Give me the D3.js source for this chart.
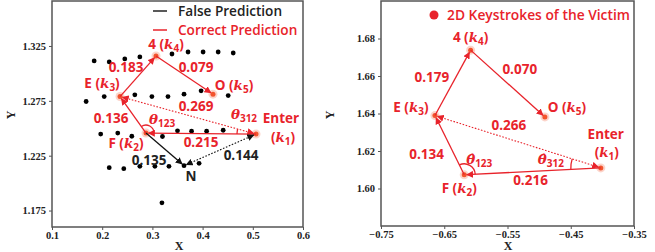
<!DOCTYPE html>
<html>
<head>
<meta charset="utf-8">
<script src="https://cdn.jsdelivr.net/npm/d3@7"></script>
<style>
  body { margin: 0; background: #fff; }
  .tick text { font-family: "Liberation Serif", serif; font-weight: bold; font-size: 10.5px; fill: #222; }
  .domain { display: none; }
  .tick line { stroke: #555; }
  .lbl { font-family: "Open Sans", sans-serif; font-weight: 700; font-size: 13.5px; }
  .axlbl { font-family: "Liberation Serif", serif; font-weight: bold; font-size: 12px; fill: #222; }
</style>
</head>
<body>
<div id="chart-area"></div>
<script>
// colours
let red = "#e8232b";
let keyFill = "#f2542d";

// left panel: false predictions (black dots)
let falseX = [0.184, 0.214, 0.245, 0.275, 0.339, 0.371, 0.401, 0.431, 0.461,
              0.168, 0.204, 0.265, 0.299, 0.331, 0.363, 0.397, 0.451,
              0.197, 0.231, 0.259, 0.320, 0.350, 0.378, 0.408, 0.441,
              0.214, 0.243, 0.275, 0.305, 0.333, 0.393, 0.319];
let falseY = [1.3114, 1.3105, 1.3132, 1.3150, 1.3177, 1.3195, 1.3195, 1.3195, 1.3186,
              1.2744, 1.2789, 1.2805, 1.2789, 1.2789, 1.2811, 1.2841, 1.2798,
              1.2447, 1.2456, 1.2427, 1.2425, 1.2477, 1.2473, 1.2473, 1.2482,
              1.2141, 1.2132, 1.2153, 1.2153, 1.2153, 1.2180, 1.1820];

// keystrokes: Enter, F, E, 4, O
let keyNames = ["Enter", "F", "E", "4", "O"];
let leftKeyX = [0.5064, 0.2873, 0.2355, 0.3072, 0.4207];
let leftKeyY = [1.2447, 1.2456, 1.2789, 1.3159, 1.2811];
let leftN = [0.363, 1.2159];

let rightKeyX = [-0.4025, -0.6184, -0.6647, -0.6083, -0.4909];
let rightKeyY = [1.6110, 1.6073, 1.6389, 1.6738, 1.6382];

// edge distances [from, to, label]
let leftEdges = [["F", "E", "0.136"], ["E", "4", "0.183"], ["4", "O", "0.079"],
                 ["Enter", "E", "0.269"], ["Enter", "F", "0.215"]];
let leftFalseEdges = [["F", "N", "0.135"], ["Enter", "N", "0.144"]];
let rightEdges = [["F", "E", "0.134"], ["E", "4", "0.179"], ["4", "O", "0.070"],
                  ["Enter", "E", "0.266"], ["Enter", "F", "0.216"]];

// tick values
let leftXTicks = [0.1, 0.2, 0.3, 0.4, 0.5, 0.6];
let leftYTicks = [1.175, 1.225, 1.275, 1.325];
let rightXTicks = [-0.75, -0.65, -0.55, -0.45, -0.35];
let rightYTicks = [1.60, 1.62, 1.64, 1.66, 1.68];

let svg = d3.select("#chart-area").append("svg")
  .attr("width", 655)
  .attr("height", 252);

let defs = svg.append("defs");
function marker(id, color) {
  defs.append("marker")
    .attr("id", id)
    .attr("viewBox", "0 0 10 10")
    .attr("refX", 9).attr("refY", 5)
    .attr("markerUnits", "userSpaceOnUse")
    .attr("markerWidth", 7).attr("markerHeight", 7)
    .attr("orient", "auto-start-reverse")
    .append("path")
    .attr("d", "M0,0L10,5L0,10z")
    .attr("fill", color);
}
marker("ar-red", red);
marker("ar-black", "#111");

// scales
let xL = d3.scaleLinear().domain([0.1, 0.6]).range([52, 303]);
let yL = d3.scaleLinear().domain([1.16, 1.366]).range([227, 1]);
let xR = d3.scaleLinear().domain([-0.75, -0.35]).range([381, 634]);
let yR = d3.scaleLinear().domain([1.58, 1.70]).range([226, 1]);

function drawFrame(x, y, xt, yt, xf, yf, xLab, yLab) {
  let g = svg.append("g");
  g.append("g")
    .attr("transform", "translate(0," + y.range()[0] + ")")
    .call(d3.axisBottom(x).tickValues(xt).tickFormat(d3.format(xf)).tickSize(3).tickPadding(2));
  g.append("g")
    .attr("transform", "translate(" + x.range()[0] + ",0)")
    .call(d3.axisLeft(y).tickValues(yt).tickFormat(d3.format(yf)).tickSize(3).tickPadding(3));
  g.append("rect")
    .attr("x", x.range()[0]).attr("y", y.range()[1])
    .attr("width", x.range()[1] - x.range()[0])
    .attr("height", y.range()[0] - y.range()[1])
    .attr("fill", "none").attr("stroke", "#555").attr("stroke-width", 1.5);
  g.append("text").attr("class", "axlbl")
    .attr("x", xLab[0]).attr("y", xLab[1])
    .attr("text-anchor", "middle").attr("dy", "0.35em").text("X");
  g.append("text").attr("class", "axlbl")
    .attr("transform", "translate(" + yLab[0] + "," + yLab[1] + ") rotate(-90)")
    .attr("text-anchor", "middle").attr("dy", "0.35em").text("Y");
}

drawFrame(xL, yL, leftXTicks, leftYTicks, ".1f", ".3f", [179, 246], [11, 115]);
drawFrame(xR, yR, rightXTicks, rightYTicks, ".2f", ".2f", [508, 246], [330, 115]);

// positions in pixels
function pts(x, y, xs, ys) {
  let p = {};
  keyNames.forEach((k, i) => p[k] = [x(xs[i]), y(ys[i])]);
  return p;
}
let pL = pts(xL, yL, leftKeyX, leftKeyY);
pL.N = [xL(leftN[0]), yL(leftN[1])];
let pR = pts(xR, yR, rightKeyX, rightKeyY);

function edge(g, a, b, color, dashed, shrink) {
  let dx = b[0] - a[0], dy = b[1] - a[1];
  let len = Math.sqrt(dx * dx + dy * dy);
  let ux = dx / len, uy = dy / len;
  let s0 = dashed ? shrink : 0;
  let mk = "url(#" + (color == red ? "ar-red" : "ar-black") + ")";
  let line = g.append("line")
    .attr("x1", a[0] + ux * s0).attr("y1", a[1] + uy * s0)
    .attr("x2", b[0] - ux * shrink).attr("y2", b[1] - uy * shrink)
    .attr("stroke", color)
    .attr("stroke-width", dashed ? 1.1 : 1.3)
    .attr("marker-end", mk);
  // dotted edges carry a head at both ends
  if (dashed) line.attr("stroke-dasharray", "1.6,1.6").attr("marker-start", mk);
}

function angleArc(g, v, a, b, r) {
  let ang = q => Math.atan2(q[0] - v[0], -(q[1] - v[1]));
  let a0 = ang(a), a1 = ang(b);
  if (a1 < a0) { let t = a0; a0 = a1; a1 = t; }
  g.append("path")
    .attr("transform", "translate(" + v[0] + "," + v[1] + ")")
    .attr("d", d3.arc()({innerRadius: r, outerRadius: r, startAngle: a0, endAngle: a1}))
    .attr("fill", "none").attr("stroke", red).attr("stroke-width", 1.3);
}

function text(g, x, y, color, parts) {
  let t = g.append("text").attr("class", "lbl")
    .attr("x", x).attr("y", y + 5)
    .attr("text-anchor", "middle")
    .attr("fill", color);
  let shifted = false;
  parts.forEach(part => {
    let s = t.append("tspan").text(part[0]);
    if (part[1] == "it") {
      s.style("font-family", "'DejaVu Serif', serif").style("font-style", "italic").style("font-weight", "bold");
    }
    if (part[1] == "sub") {
      s.attr("dy", 3).style("font-size", "10px");
      shifted = true;
    } else if (shifted) {
      s.attr("dy", -3);
      shifted = false;
    }
  });
  return t;
}

function keyLabel(k, sub) {
  return [[k + " ("], ["k", "it"], [sub, "sub"], [")"]];
}

function keyDots(g, p) {
  keyNames.forEach(k => {
    g.append("circle").attr("cx", p[k][0]).attr("cy", p[k][1]).attr("r", 4.5)
      .attr("fill", keyFill).attr("opacity", 0.25);
    g.append("circle").attr("cx", p[k][0]).attr("cy", p[k][1]).attr("r", 2.5)
      .attr("fill", keyFill);
  });
}

// ---------- left panel ----------
let gl = svg.append("g");
gl.selectAll(".fp")
  .data(falseX)
  .enter().append("circle")
  .attr("class", "fp")
  .attr("cx", d => xL(d))
  .attr("cy", (d, i) => yL(falseY[i]))
  .attr("r", 2.4)
  .attr("fill", "#000");
gl.append("circle").attr("cx", pL.N[0]).attr("cy", pL.N[1]).attr("r", 2.4).attr("fill", "#000");
keyDots(gl, pL);

leftEdges.forEach(e => edge(gl, pL[e[0]], pL[e[1]], red, e[0] == "Enter" && e[1] == "E", 2.5));
leftFalseEdges.forEach(e => edge(gl, pL[e[0]], pL[e[1]], "#111", e[0] == "Enter", 2.5));
angleArc(gl, pL.F, pL.E, pL.Enter, 8);
angleArc(gl, pL.Enter, pL.E, pL.F, 19);

// label offsets (px) from edge midpoints
let leftEdgeOff = [[-22, 3], [-12, -9.5], [11.5, -8], [8, -9.5], [0, 8.5]];
let leftFalseOff = [[-16, 10.5], [21, 5]];
function mid(p, e) { return [(p[e[0]][0] + p[e[1]][0]) / 2, (p[e[0]][1] + p[e[1]][1]) / 2]; }
leftEdges.forEach((e, i) => {
  let m = mid(pL, e);
  text(gl, m[0] + leftEdgeOff[i][0], m[1] + leftEdgeOff[i][1], red, [[e[2]]]);
});
leftFalseEdges.forEach((e, i) => {
  let m = mid(pL, e);
  text(gl, m[0] + leftFalseOff[i][0], m[1] + leftFalseOff[i][1], "#222", [[e[2]]]);
});

text(gl, pL.E[0] - 18, pL.E[1] - 14, red, keyLabel("E", "3"));
text(gl, pL["4"][0] + 10, pL["4"][1] - 12, red, keyLabel("4", "4"));
text(gl, pL.O[0] + 21, pL.O[1] - 9, red, keyLabel("O", "5"));
text(gl, pL.F[0] - 20, pL.F[1] + 10, red, keyLabel("F", "2"));
text(gl, pL.Enter[0] + 25, pL.Enter[1] - 16, red, [["Enter"]]);
text(gl, pL.Enter[0] + 27, pL.Enter[1] + 3, red, [["("], ["k", "it"], ["1", "sub"], [")"]]);
text(gl, pL.N[0] + 7, pL.N[1] + 10, "#222", [["N"]]);
text(gl, pL.F[0] + 16, pL.F[1] - 14, red, [["θ", "it"], ["123", "sub"]]);
text(gl, pL.Enter[0] - 12, pL.Enter[1] - 20, red, [["θ", "it"], ["312", "sub"]]);

// legend
let legend = [["False Prediction", "#222"], ["Correct Prediction", red]];
legend.forEach((l, i) => {
  gl.append("line").attr("x1", 153).attr("x2", 167)
    .attr("y1", 11 + i * 19).attr("y2", 11 + i * 19)
    .attr("stroke", l[1]).attr("stroke-width", 1.5);
  gl.append("text").attr("class", "lbl")
    .attr("x", 178).attr("y", 11 + i * 19).attr("dy", "0.35em")
    .attr("fill", l[1]).style("font-weight", 600).style("font-size", "13.6px").text(l[0]);
});

// ---------- right panel ----------
let gr = svg.append("g");
keyDots(gr, pR);
rightEdges.forEach(e => edge(gr, pR[e[0]], pR[e[1]], red, e[0] == "Enter" && e[1] == "E", 2.5));
angleArc(gr, pR.F, pR.E, pR.Enter, 11);
angleArc(gr, pR.Enter, pR.E, pR.F, 30);

let rightEdgeOff = [[-23, 9], [-21, -6], [12, -15], [-9, -17], [-2, 9]];
rightEdges.forEach((e, i) => {
  let m = mid(pR, e);
  text(gr, m[0] + rightEdgeOff[i][0], m[1] + rightEdgeOff[i][1], red, [[e[2]]]);
});
text(gr, pR.E[0] - 24, pR.E[1] - 9, red, keyLabel("E", "3"));
text(gr, pR["4"][0], pR["4"][1] - 13, red, keyLabel("4", "4"));
text(gr, pR.O[0] + 22, pR.O[1] - 10, red, keyLabel("O", "5"));
text(gr, pR.F[0] - 5, pR.F[1] + 13, red, keyLabel("F", "2"));
text(gr, pR.Enter[0] + 5, pR.Enter[1] - 34, red, [["Enter"]]);
text(gr, pR.Enter[0] + 6, pR.Enter[1] - 16, red, [["("], ["k", "it"], ["1", "sub"], [")"]]);
text(gr, pR.F[0] + 15, pR.F[1] - 16, red, [["θ\u0302", "it"], ["123", "sub"]]);
text(gr, pR.Enter[0] - 50, pR.Enter[1] - 9, red, [["θ\u0302", "it"], ["312", "sub"]]);

gr.append("circle").attr("cx", 434).attr("cy", 15).attr("r", 4.5).attr("fill", red);
gr.append("text").attr("class", "lbl")
  .attr("x", 447).attr("y", 15).attr("dy", "0.35em")
  .attr("fill", red).style("font-weight", 600).style("font-size", "13.8px").text("2D Keystrokes of the Victim");
</script>
</body>
</html>
